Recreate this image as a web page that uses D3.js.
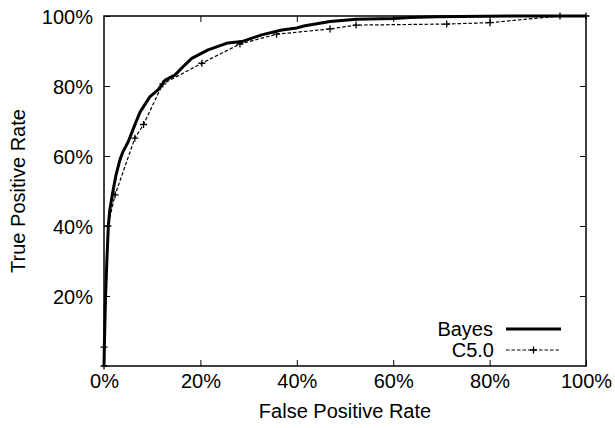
<!DOCTYPE html>
<html><head><meta charset="utf-8">
<script src="https://cdn.jsdelivr.net/npm/d3@7"></script>
<style>body{margin:0;background:#fff}svg{display:block}text{font-family:"Liberation Sans",Arial,sans-serif;fill:#000}</style>
</head><body>
<svg id="c" width="615" height="428"></svg>
<script>
// Data (fractions)
const bayesFPR = [0,0.001,0.003,0.006,0.009,0.012,0.019,0.025,0.033,0.039,0.050,0.064,0.075,0.082,0.095,0.112,0.127,0.147,0.164,0.182,0.199,0.216,0.257,0.286,0.327,0.369,0.400,0.417,0.469,0.524,0.600,0.635,0.690,0.863,1.0];
const bayesTPR = [0,0.074,0.189,0.303,0.400,0.446,0.503,0.546,0.589,0.611,0.640,0.689,0.726,0.741,0.769,0.789,0.817,0.831,0.855,0.879,0.891,0.903,0.923,0.927,0.946,0.960,0.966,0.972,0.984,0.991,0.993,0.996,0.998,1.0,1.0];
const c50FPR = [0,0,0.008,0.023,0.064,0.082,0.122,0.203,0.282,0.358,0.469,0.523,0.711,0.801,0.946,1.0];
const c50TPR = [0,0.054,0.400,0.489,0.651,0.690,0.806,0.865,0.920,0.948,0.963,0.974,0.977,0.981,1.0,1.0];
const tickValues = [0,0.2,0.4,0.6,0.8,1.0];
const tickLabels = ["0%","20%","40%","60%","80%","100%"];
const seriesNames = ["Bayes","C5.0"];

const L=104,R=586,T=16,B=366;
const svg=d3.select("#c");
const x=d3.scaleLinear().domain([0,1]).range([L,R]);
const y=d3.scaleLinear().domain([0,1]).range([B,T]);
const fmt=d=>tickLabels[tickValues.indexOf(d)];

// axes with inward ticks
const tl=6;
svg.append("g").attr("transform",`translate(0,${B})`)
  .call(d3.axisBottom(x).tickValues(tickValues).tickFormat(fmt).tickSizeInner(-tl).tickSizeOuter(0).tickPadding(12))
  .call(g=>{g.select(".domain").remove();g.selectAll("text").attr("font-size",20).attr("dy","0.71em").attr("y",8);g.selectAll("line").attr("stroke","#000");});
svg.append("g").attr("transform",`translate(0,${T})`)
  .call(d3.axisTop(x).tickValues(tickValues.slice(1,-1)).tickFormat("").tickSizeInner(-tl).tickSizeOuter(0))
  .call(g=>{g.select(".domain").remove();g.selectAll("line").attr("stroke","#000");});
svg.append("g").attr("transform",`translate(${L},0)`)
  .call(d3.axisLeft(y).tickValues(tickValues.slice(1)).tickFormat(fmt).tickSizeInner(-tl).tickSizeOuter(0))
  .call(g=>{g.select(".domain").remove();g.selectAll("text").attr("font-size",20).attr("x",-11).attr("dy","0.36em");g.selectAll("line").attr("stroke","#000");});
svg.append("g").attr("transform",`translate(${R},0)`)
  .call(d3.axisRight(y).tickValues(tickValues.slice(1,-1)).tickFormat("").tickSizeInner(-tl).tickSizeOuter(0))
  .call(g=>{g.select(".domain").remove();g.selectAll("line").attr("stroke","#000");});

// frame
svg.append("rect").attr("x",L).attr("y",T).attr("width",R-L).attr("height",B-T)
  .attr("fill","none").attr("stroke","#000").attr("stroke-width",1.5);

// axis titles
svg.append("text").attr("x",(L+R)/2).attr("y",418).attr("text-anchor","middle").attr("font-size",20).text("False Positive Rate");
svg.append("text").attr("transform",`translate(25,${(T+B)/2}) rotate(-90)`).attr("text-anchor","middle").attr("font-size",20).text("True Positive Rate");

const line=d3.line().x(d=>x(d[0])).y(d=>y(d[1]));
const bayes=bayesFPR.map((v,i)=>[v,bayesTPR[i]]);
const c50=c50FPR.map((v,i)=>[v,c50TPR[i]]);

svg.append("path").datum(c50).attr("d",line).attr("fill","none").attr("stroke","#000").attr("stroke-width",1.2).attr("stroke-dasharray","3.5,2");
const plus=(g,px,py)=>{g.append("path").attr("d",`M${px-3.5},${py}H${px+3.5}M${px},${py-3.5}V${py+3.5}`).attr("stroke","#000").attr("stroke-width",1.3);};
const mg=svg.append("g");
c50.forEach(d=>plus(mg,x(d[0]),y(d[1])));
svg.append("path").datum(bayes).attr("d",line).attr("fill","none").attr("stroke","#000").attr("stroke-width",3).attr("stroke-linejoin","round");

// legend
svg.append("text").attr("x",493).attr("y",336).attr("text-anchor","end").attr("font-size",20).text(seriesNames[0]);
svg.append("line").attr("x1",506).attr("x2",561).attr("y1",329).attr("y2",329).attr("stroke","#000").attr("stroke-width",3);
svg.append("text").attr("x",494).attr("y",357).attr("text-anchor","end").attr("font-size",20).text(seriesNames[1]);
svg.append("line").attr("x1",506).attr("x2",561).attr("y1",350).attr("y2",350).attr("stroke","#000").attr("stroke-width",1.2).attr("stroke-dasharray","3.5,2");
plus(svg,533.5,350);
</script>
</body></html>
